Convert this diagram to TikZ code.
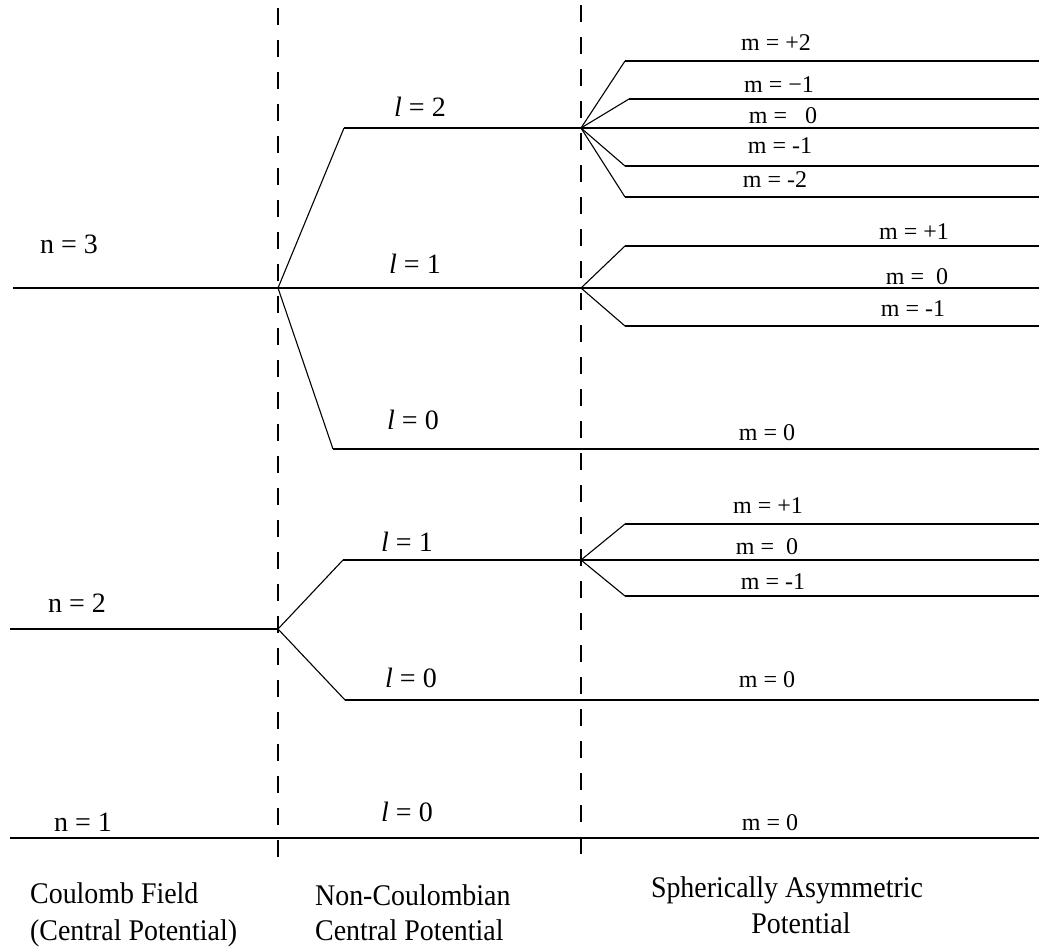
\documentclass[tikz,border=0pt]{standalone}
\usepackage{fontspec}
\setmainfont{Liberation Serif}
\newfontfamily\capfont{Liberation Serif}[FakeStretch=0.93]
\begin{document}
\begin{tikzpicture}[x=1pt,y=-1pt,
  level/.style={line width=1.8pt},
  split/.style={line width=1.1pt},
  divider/.style={line width=1.6pt, dash pattern=on 17pt off 15pt},
  biglbl/.style={font=\fontsize{28}{30}\selectfont, inner sep=0pt, anchor=base},
  mlbl/.style={font=\fontsize{24}{26}\selectfont, inner sep=0pt, anchor=base},
  caption/.style={font=\capfont\fontsize{30}{32}\selectfont, inner sep=0pt, anchor=base west}]
\useasboundingbox (0,0) rectangle (1039,948);

% column dividers
\coordinate (d1top) at (278,8);   \coordinate (d1bot) at (278,870);
\coordinate (d2top) at (581,5);   \coordinate (d2bot) at (581,866);
\draw[divider] (d1top) -- (d1bot);
\draw[divider] (d2top) -- (d2bot);

% ---- n = 3 ----
\coordinate (n3L) at (13,288);   \coordinate (n3S) at (278,288);
% l = 2
\coordinate (l2a) at (344,128);  \coordinate (l2S) at (581,128);
\coordinate (m2a) at (625,61);   \coordinate (m2E) at (1039,61);
\coordinate (m1a) at (629,99);   \coordinate (m1E) at (1039,99);
\coordinate (m0E) at (1039,128);
\coordinate (mm1a) at (625,166); \coordinate (mm1E) at (1039,166);
\coordinate (mm2a) at (625,197); \coordinate (mm2E) at (1039,197);
% l = 1
\coordinate (l1S) at (581,288);
\coordinate (p1a) at (625,246);  \coordinate (p1E) at (1039,246);
\coordinate (p0E) at (1039,288);
\coordinate (q1a) at (625,326);  \coordinate (q1E) at (1039,326);
% l = 0
\coordinate (l0a) at (333,449);  \coordinate (l0E) at (1039,449);

\draw[level] (n3L) -- (n3S) -- (l1S) -- (p0E);
\draw[split] (n3S) -- (l2a);
\draw[level] (l2a) -- (l2S) -- (m0E);
\draw[split] (l2S) -- (m2a);  \draw[level] (m2a) -- (m2E);
\draw[split] (l2S) -- (m1a);  \draw[level] (m1a) -- (m1E);
\draw[split] (l2S) -- (mm1a); \draw[level] (mm1a) -- (mm1E);
\draw[split] (l2S) -- (mm2a); \draw[level] (mm2a) -- (mm2E);
\draw[split] (l1S) -- (p1a);  \draw[level] (p1a) -- (p1E);
\draw[split] (l1S) -- (q1a);  \draw[level] (q1a) -- (q1E);
\draw[split] (n3S) -- (l0a);  \draw[level] (l0a) -- (l0E);

% ---- n = 2 ----
\coordinate (n2L) at (10,629);   \coordinate (n2S) at (278,629);
\coordinate (k1a) at (343,560);  \coordinate (k1S) at (581,560);
\coordinate (r1a) at (625,524);  \coordinate (r1E) at (1039,524);
\coordinate (r0E) at (1039,560);
\coordinate (s1a) at (625,596);  \coordinate (s1E) at (1039,596);
\coordinate (k0a) at (345,700);  \coordinate (k0E) at (1039,700);

\draw[level] (n2L) -- (n2S);
\draw[split] (n2S) -- (k1a);
\draw[level] (k1a) -- (k1S) -- (r0E);
\draw[split] (k1S) -- (r1a);  \draw[level] (r1a) -- (r1E);
\draw[split] (k1S) -- (s1a);  \draw[level] (s1a) -- (s1E);
\draw[split] (n2S) -- (k0a);  \draw[level] (k0a) -- (k0E);

% ---- n = 1 ----
\coordinate (n1L) at (10,838);   \coordinate (n1E) at (1039,838);
\draw[level] (n1L) -- (n1E);

% level labels
\node[biglbl] (tn3) at (69,253) {n = 3};
\node[biglbl] (tn2) at (77,612) {n = 2};
\node[biglbl] (tn1) at (83,831) {n = 1};

\node[biglbl] (tl2) at (420,116) {\textit{l} = 2};
\node[biglbl] (tl1a) at (415,273) {\textit{l} = 1};
\node[biglbl] (tl0a) at (413,429) {\textit{l} = 0};
\node[biglbl] (tl1b) at (407,551) {\textit{l} = 1};
\node[biglbl] (tl0b) at (411,687) {\textit{l} = 0};
\node[biglbl] (tl0c) at (407,821) {\textit{l} = 0};

\node[mlbl] (tm2p) at (776,50)  {m = +2};
\node[mlbl] (tm1a) at (779,92)  {m = −1};
\node[mlbl] (tm0a) at (783,123) {m = \ \ 0};
\node[mlbl] (tm1b) at (780,153) {m = -1};
\node[mlbl] (tm2n) at (775,187) {m = -2};

\node[mlbl] (tp1a) at (914,239) {m = +1};
\node[mlbl] (tp0a) at (917,284) {m = \ 0};
\node[mlbl] (tq1a) at (913,316) {m = -1};
\node[mlbl] (tz0a) at (767,440) {m = 0};

\node[mlbl] (tp1b) at (768,513) {m = +1};
\node[mlbl] (tp0b) at (767,554) {m = \ 0};
\node[mlbl] (tq1b) at (773,589) {m = -1};
\node[mlbl] (tz0b) at (767,687) {m = 0};
\node[mlbl] (tz0c) at (770,830) {m = 0};

% column captions
\node[caption] (c1a) at (30,903)  {Coulomb Field};
\node[caption] (c1b) at (30,940)  {(Central Potential)};
\node[caption] (c2a) at (315,905) {Non-Coulombian};
\node[caption] (c2b) at (315,940) {Central Potential};
\node[caption, anchor=base] (c3a) at (787,897) {Spherically Asymmetric};
\node[caption, anchor=base] (c3b) at (801,933) {Potential};
\end{tikzpicture}
\end{document}
